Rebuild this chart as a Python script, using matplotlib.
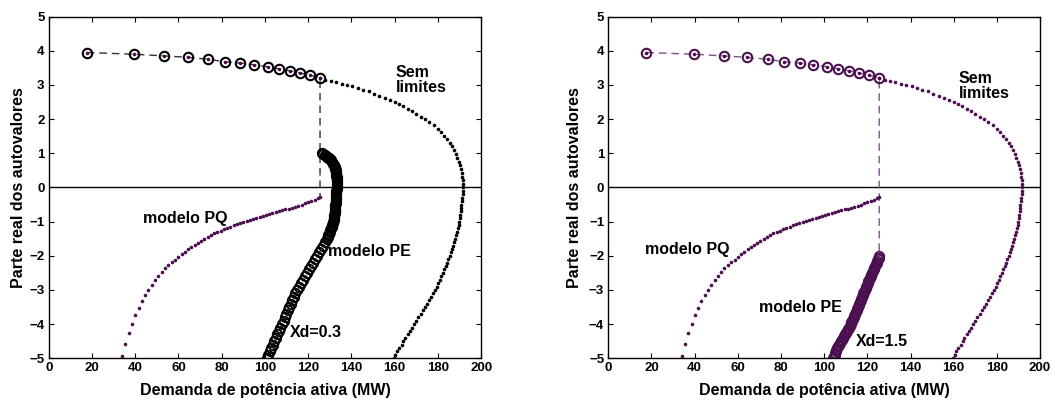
# -*- coding: utf-8 -*-
import matplotlib
matplotlib.use("Agg")
import matplotlib.pyplot as plt

plt.rcParams['font.family'] = ['Liberation Sans', 'DejaVu Sans']
plt.rcParams['font.weight'] = 'bold'

# curva superior com limites (circulos + tracejado)
lim_x = [17.6, 39.5, 53.5, 64.3, 73.9, 81.6, 88.6, 95.0, 101.2, 106.6, 111.6, 116.3, 120.9, 125.5]
lim_y = [3.95, 3.90, 3.85, 3.81, 3.75, 3.68, 3.64, 3.59, 3.53, 3.47, 3.41, 3.35, 3.29, 3.20]

# sem limites (pontos)
sl_x = [125.5, 128, 130.5, 133, 135.5, 138, 140.5, 143, 145.5, 148, 150.5, 153, 155.5, 158,
        160, 162, 164, 166, 168, 170, 172, 174, 176, 178, 180, 181.5, 183, 184.3, 185.5, 186.6,
        187.5, 188.3, 189.0, 189.6, 190.2, 190.7, 191.1, 191.4, 191.6, 191.7, 191.8,
        191.6, 191.5, 191.3, 191.1, 190.9, 190.7, 190.5, 190.3, 190.1, 190.0, 189.6, 189.2,
        188.8, 188.4, 188.0, 187.5, 187.0, 186.5, 186.0, 185.5, 184.9, 184.3, 183.6, 183.0,
        182.3, 181.6, 180.9, 180.2, 179.5, 178.8, 177.9, 177.0, 176.0, 175.0, 174.0, 173.0,
        172.0, 171.0, 169.9, 168.8, 167.9, 166.9, 166.0, 165.0, 164.1, 163.2, 162.2, 161.3,
        160.4, 159.5]
sl_y = [3.20, 3.16, 3.12, 3.08, 3.04, 3.00, 2.96, 2.91, 2.86, 2.81, 2.75, 2.69, 2.63, 2.57,
        2.51, 2.45, 2.38, 2.31, 2.23, 2.15, 2.07, 1.99, 1.91, 1.82, 1.72, 1.63, 1.52, 1.42, 1.31, 1.20,
        1.09, 0.98, 0.87, 0.76, 0.65, 0.54, 0.43, 0.32, 0.21, 0.10, 0.00,
        -0.1, -0.2, -0.3, -0.4, -0.5, -0.6, -0.7, -0.8, -0.9, -1.0, -1.1, -1.2,
        -1.3, -1.4, -1.5, -1.6, -1.7, -1.8, -1.9, -2.0, -2.1, -2.2, -2.3, -2.4,
        -2.5, -2.6, -2.7, -2.8, -2.9, -3.0, -3.1, -3.2, -3.3, -3.4, -3.5, -3.6,
        -3.7, -3.8, -3.9, -4.0, -4.1, -4.2, -4.3, -4.4, -4.5, -4.6, -4.7, -4.8,
        -4.9, -5.0]

# modelo PQ (pontos)
pq_x = [34.1, 35.3, 36.9, 38.7, 40.1, 41.7, 43.1, 44.6, 46.1, 47.7, 49.2, 50.7, 52.3, 53.8,
        55.4, 56.9, 58.5, 60.0, 61.5, 63.0, 64.5, 66.0, 67.5, 69.0, 70.5, 72.0, 73.5, 75.0,
        76.5, 78.0, 79.5, 81.0, 82.5, 84.0, 85.5, 87.0, 88.5, 90.0, 91.5, 93.0, 94.5, 96.0,
        97.5, 99.0, 100.5, 102.0, 103.5, 105.0, 106.5, 108.0, 109.5, 111.0, 112.5, 114.0,
        115.5, 117.0, 118.5, 120.0, 121.5, 123.0, 124.5, 125.6]
pq_y = [-4.92, -4.59, -4.27, -4.01, -3.74, -3.52, -3.31, -3.14, -2.99, -2.85, -2.72, -2.59,
        -2.47, -2.37, -2.28, -2.19, -2.11, -2.03, -1.96, -1.88, -1.81, -1.75, -1.68, -1.62,
        -1.56, -1.50, -1.44, -1.39, -1.34, -1.30, -1.26, -1.22, -1.18, -1.15, -1.11, -1.08,
        -1.05, -1.02, -0.99, -0.96, -0.93, -0.90, -0.87, -0.84, -0.81, -0.79, -0.76, -0.73,
        -0.70, -0.67, -0.64, -0.62, -0.59, -0.56, -0.53, -0.50, -0.46, -0.43, -0.40, -0.36,
        -0.32, -0.29]

# modelo PE, Xd=0.3
pe03_x = [126.4, 127.1, 127.8, 128.4, 128.9, 129.4, 129.8, 130.2, 130.5, 131.0, 131.5, 131.9,
          132.2, 132.5, 132.7, 132.9, 133.0, 133.1, 133.2, 133.3, 133.3, 133.3, 133.3, 133.3,
          133.2, 133.2, 133.1, 133.1, 133.0, 133.0, 132.9, 132.9, 132.8, 132.7, 132.6, 132.6,
          132.5, 132.4, 132.3, 132.2, 132.1, 132.0, 131.9, 131.8, 131.7, 131.5, 131.2, 130.9,
          130.6, 130.3, 130.0, 129.7, 129.4, 129.1, 128.7,
          127.8, 126.9, 126.0, 125.0, 124.1, 123.2, 122.2, 121.3, 120.3, 119.4, 118.5, 117.6,
          116.7, 115.7, 114.8, 114.1, 113.4, 112.6, 111.9, 111.2, 110.5, 109.9, 109.2, 108.6,
          107.9, 107.2, 106.5, 105.7, 105.0, 104.3, 103.6, 103.0, 102.3, 101.6, 100.9]
pe03_y = [1.00, 0.975, 0.95, 0.925, 0.90, 0.875, 0.85, 0.825, 0.80, 0.75, 0.70, 0.65,
          0.60, 0.55, 0.50, 0.45, 0.40, 0.35, 0.30, 0.25, 0.20, 0.15, 0.10, 0.05,
          0.00, -0.05, -0.10, -0.15, -0.20, -0.25, -0.30, -0.35, -0.40, -0.45, -0.50, -0.55,
          -0.60, -0.65, -0.70, -0.75, -0.80, -0.85, -0.90, -0.95, -1.00, -1.05, -1.10, -1.15,
          -1.20, -1.25, -1.30, -1.35, -1.40, -1.45, -1.50,
          -1.6, -1.7, -1.8, -1.9, -2.0, -2.1, -2.2, -2.3, -2.4, -2.5, -2.6, -2.7,
          -2.8, -2.9, -3.0, -3.1, -3.2, -3.3, -3.4, -3.5, -3.6, -3.7, -3.8, -3.9,
          -4.0, -4.1, -4.2, -4.3, -4.4, -4.5, -4.6, -4.7, -4.8, -4.9, -5.0]

# modelo PE, Xd=1.5
pe15_x = [125.6, 125.3, 125.0, 124.6, 124.3, 123.9, 123.6, 123.2, 122.9, 122.6, 122.3, 121.9,
          121.6, 121.2, 120.9, 120.5, 120.2, 119.9, 119.6, 119.2, 118.9, 118.5, 118.2, 117.9,
          117.6, 117.2, 116.9, 116.6, 116.3, 116.0, 115.7, 115.3, 115.0, 114.6, 114.3, 113.9,
          113.6, 113.2, 112.9, 112.5, 112.2, 111.8, 111.4, 110.9, 110.5, 110.0, 109.5, 109.0,
          108.6, 108.1, 107.7, 107.3, 106.9, 106.5, 106.1, 105.7, 105.4, 105.1, 104.8, 104.5,
          104.2]
pe15_y = [-2.00, -2.05, -2.10, -2.15, -2.20, -2.25, -2.30, -2.35, -2.40, -2.45, -2.50, -2.55,
          -2.60, -2.65, -2.70, -2.75, -2.80, -2.85, -2.90, -2.95, -3.00, -3.05, -3.10, -3.15,
          -3.20, -3.25, -3.30, -3.35, -3.40, -3.45, -3.50, -3.55, -3.60, -3.65, -3.70, -3.75,
          -3.80, -3.85, -3.90, -3.95, -4.00, -4.05, -4.10, -4.15, -4.20, -4.25, -4.30, -4.35,
          -4.40, -4.45, -4.50, -4.55, -4.60, -4.65, -4.70, -4.75, -4.80, -4.85, -4.90, -4.95,
          -5.00]

purple = '#4c1050'


def panel(ax, pe_x, pe_y, main_c, dash_c, xd_txt, txt_pos):
    ax.axhline(0, color='k', lw=1)
    # tracejado: circulos ate o ponto de colapso e depois vertical
    ax.plot(lim_x + [lim_x[-1]], lim_y + [pe_y[0] if pe_y[0] < 0 else pq_y[-1]],
            color=dash_c, lw=1, dashes=(5.5, 3.5))
    ax.plot(sl_x, sl_y, 'o', ms=2.6, color=main_c, mec='none')
    ax.plot(pq_x, pq_y, 'o', ms=2.6, color=purple, mec='none')
    ax.plot(lim_x, lim_y, 'o', ms=2.6, color=purple, mec='none')
    ax.plot(lim_x, lim_y, 'o', ms=6.8, mfc='none', mec=main_c, mew=1.5)
    ax.plot(pe_x, pe_y, 'o', ms=6.8, mfc='none', mec=main_c, mew=1.3)

    ax.text(txt_pos[0][0], txt_pos[0][1], 'Sem\nlimites', fontsize=11.5, fontweight='bold',
            ha='left', va='center', linespacing=1.05)
    ax.text(txt_pos[1][0], txt_pos[1][1], 'modelo PQ', fontsize=11.5, fontweight='bold',
            ha='left', va='center')
    ax.text(txt_pos[2][0], txt_pos[2][1], 'modelo PE', fontsize=11.5, fontweight='bold',
            ha='left', va='center')
    ax.text(txt_pos[3][0], txt_pos[3][1], xd_txt, fontsize=11.5, fontweight='bold',
            ha='left', va='center')

    ax.set_xlim(0, 200)
    ax.set_ylim(-5, 5)
    ax.set_xticks(range(0, 201, 20))
    ax.set_yticks(range(-5, 6))
    ax.tick_params(direction='in', top=True, right=True, length=3.5, width=0.8,
                   labelsize=9.5, pad=3)
    for lab in ax.get_xticklabels() + ax.get_yticklabels():
        lab.set_fontweight('bold')
    for sp in ax.spines.values():
        sp.set_linewidth(1)
    ax.set_xlabel('Demanda de potência ativa (MW)', fontsize=11.5, fontweight='bold')
    ax.set_ylabel('Parte real dos autovalores', fontsize=11.5, fontweight='bold')
    ax.xaxis.set_label_coords(0.5, -0.073)


fig = plt.figure(figsize=(10.55, 4.01), dpi=100)
ax1 = fig.add_axes([0.0462, 0.1065, 0.4098, 0.852])
ax2 = fig.add_axes([0.5766, 0.1065, 0.4092, 0.852])

panel(ax1, pe03_x, pe03_y, 'k', '#333333', 'Xd=0.3',
      [(160.6, 3.14), (43.7, -0.90), (129.4, -1.88), (111.7, -4.24)])
panel(ax2, pe15_x, pe15_y, purple, '#80508a', 'Xd=1.5',
      [(162.2, 2.965), (17.0, -1.81), (70.0, -3.51), (114.8, -4.51)])
ax1.yaxis.set_label_coords(-0.053, 0.5)
ax2.yaxis.set_label_coords(-0.060, 0.5)

fig.savefig('out.png', dpi=100)
